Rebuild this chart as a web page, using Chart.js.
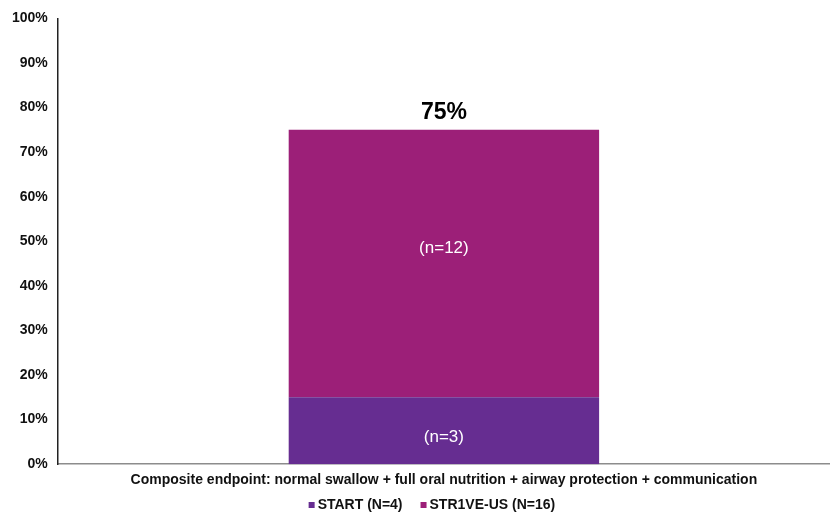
<!DOCTYPE html>
<html>
<head>
<meta charset="utf-8">
<script src="https://cdn.jsdelivr.net/npm/chart.js@4/dist/chart.umd.min.js"></script>
<style>
  html, body { margin: 0; padding: 0; background: #fff; }
  #wrap { width: 830px; height: 514px; position: relative; }
</style>
</head>
<body>
<div id="wrap"><canvas id="chart"></canvas></div>
<script>
// data
const categories = ['Composite endpoint: normal swallow + full oral nutrition + airway protection + communication'];
const seriesNames = ['START (N=4)', 'STR1VE-US (N=16)'];
const startValues = [15];
const striveValues = [60];
const segmentLabels = [['(n=3)'], ['(n=12)']];
const totalLabels = ['75%'];
const seriesColors = ['#662d91', '#9c1f78'];

const FONT = "'Liberation Sans', Arial, sans-serif";

// draws the (n=..) labels inside the bars and the total on top
const barLabels = {
  id: 'barLabels',
  afterDatasetsDraw(chart) {
    const ctx = chart.ctx;
    ctx.save();
    ctx.textAlign = 'center';
    ctx.textBaseline = 'middle';
    chart.data.datasets.forEach((ds, di) => {
      const meta = chart.getDatasetMeta(di);
      meta.data.forEach((bar, i) => {
        const mid = (bar.y + bar.base) / 2;
        ctx.fillStyle = '#ffffff';
        ctx.font = '17px ' + FONT;
        ctx.fillText(segmentLabels[di][i], bar.x, di === 0 ? mid + 7 : mid - 15);
      });
    });
    const top = chart.getDatasetMeta(chart.data.datasets.length - 1);
    top.data.forEach((bar, i) => {
      ctx.fillStyle = '#000000';
      ctx.font = 'bold 23px ' + FONT;
      ctx.fillText(totalLabels[i], bar.x, bar.y - 17);
    });
    ctx.restore();
  }
};

// small legend under the axis title, built from the datasets
const bottomLegend = {
  id: 'bottomLegend',
  afterDraw(chart) {
    const ctx = chart.ctx;
    const box = 6, gap = 3, itemGap = 18;
    ctx.save();
    ctx.font = 'bold 14px ' + FONT;
    ctx.textBaseline = 'middle';
    const items = chart.data.datasets.map(ds => ({
      text: ds.label, color: ds.backgroundColor, w: box + gap + ctx.measureText(ds.label).width
    }));
    const total = items.reduce((s, it) => s + it.w, 0) + itemGap * (items.length - 1);
    let x = (chart.chartArea.left + chart.chartArea.right) / 2 - 12 - total / 2;
    const y = chart.height - 9;
    items.forEach(it => {
      ctx.fillStyle = it.color;
      ctx.fillRect(x, y - box / 2, box, box);
      ctx.fillStyle = '#111';
      ctx.fillText(it.text, x + box + gap, y);
      x += it.w + itemGap;
    });
    ctx.restore();
  }
};

new Chart(document.getElementById('chart'), {
  type: 'bar',
  data: {
    labels: categories,
    datasets: [
      { label: seriesNames[0], data: startValues, backgroundColor: seriesColors[0] },
      { label: seriesNames[1], data: striveValues, backgroundColor: seriesColors[1] }
    ]
  },
  options: {
    responsive: true,
    maintainAspectRatio: false,
    animation: false,
    layout: { padding: { top: 12, right: 0, left: 2, bottom: 17 } },
    datasets: { bar: { categoryPercentage: 1, barPercentage: 0.402 } },
    scales: {
      x: {
        stacked: true,
        grid: { display: false, drawTicks: false },
        border: { color: '#8c8c8c', width: 1.5 },
        ticks: { color: '#111', font: { family: FONT, size: 14, weight: 'bold' }, padding: 8 }
      },
      y: {
        stacked: true,
        min: 0,
        max: 100,
        grid: { display: false, drawTicks: false },
        border: { color: '#222', width: 1.5 },
        ticks: {
          stepSize: 10,
          padding: 10,
          color: '#111',
          font: { family: FONT, size: 14, weight: 'bold' },
          callback: v => v + '%'
        }
      }
    },
    plugins: {
      legend: { display: false },
      tooltip: { enabled: false }
    }
  },
  plugins: [barLabels, bottomLegend]
});
</script>
</body>
</html>
